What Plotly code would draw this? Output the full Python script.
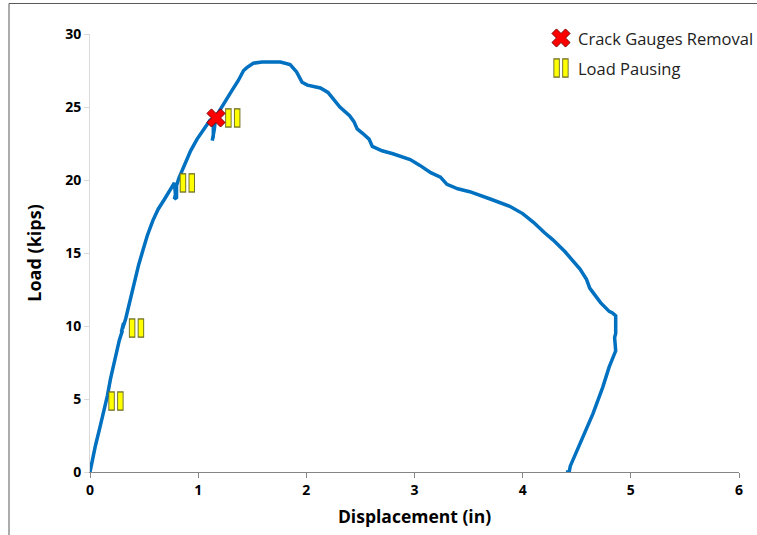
import plotly.graph_objects as go

# ---------------- data ----------------
disp = [0, 0.02, 0.05, 0.09, 0.13, 0.16, 0.19, 0.23, 0.27, 0.30,
        0.29, 0.31, 0.30, 0.33, 0.37, 0.41, 0.45, 0.49, 0.53, 0.58,
        0.63, 0.69, 0.74, 0.78, 0.79, 0.78, 0.80, 0.80, 0.82, 0.87, 0.93,
        0.99, 1.05, 1.11, 1.14, 1.14, 1.13, 1.15, 1.16, 1.20, 1.25,
        1.31, 1.37, 1.42, 1.45, 1.51, 1.59, 1.68, 1.76, 1.85, 1.91,
        1.96, 2.01, 2.13, 2.20, 2.31, 2.40, 2.44, 2.47, 2.52, 2.58,
        2.61, 2.70, 2.80, 2.96, 3.05, 3.15, 3.24, 3.30, 3.40, 3.51,
        3.70, 3.88, 4.00, 4.10, 4.20, 4.28, 4.39, 4.48, 4.53, 4.59,
        4.62, 4.66, 4.72, 4.80, 4.83, 4.86, 4.86, 4.85, 4.86, 4.80,
        4.74, 4.65, 4.57, 4.49, 4.44, 4.43, 4.40]
load = [0, 0.8, 1.8, 3.0, 4.2, 5.2, 6.4, 7.8, 9.0, 9.7,
        9.6, 10.2, 9.8, 10.5, 11.8, 13.0, 14.2, 15.2, 16.2, 17.2,
        18.0, 18.7, 19.3, 19.8, 19.0, 18.7, 18.8, 19.6, 20.1, 21.0, 22.0,
        22.8, 23.5, 24.1, 24.2, 23.0, 22.7, 23.5, 24.3, 24.8, 25.4,
        26.1, 26.8, 27.5, 27.7, 28.0, 28.08, 28.1, 28.08, 27.9, 27.4,
        26.7, 26.5, 26.3, 26.0, 25.0, 24.4, 24.0, 23.5, 23.2, 22.8,
        22.3, 22.0, 21.8, 21.4, 21.0, 20.5, 20.2, 19.7, 19.4, 19.2,
        18.7, 18.2, 17.7, 17.1, 16.4, 15.9, 15.1, 14.3, 13.9, 13.2,
        12.6, 12.2, 11.6, 11.0, 10.9, 10.7, 9.5, 9.2, 8.3, 7.2,
        5.8, 4.0, 2.6, 1.3, 0.4, 0, 0]

crack_x = [1.165]
crack_y = [24.25]

pause_x = [0.24, 0.43, 0.90, 1.32]
pause_y = [4.86, 9.86, 19.8, 24.25]

x_ticks = [0, 1, 2, 3, 4, 5, 6]
y_ticks = [0, 5, 10, 15, 20, 25, 30]

legend_labels = ["Crack Gauges Removal", "Load Pausing"]

BLUE = "#0070C0"
FONT = "Open Sans"
OUTL = "#75752a"

fig = go.Figure()

fig.add_trace(go.Scatter(x=disp, y=load, mode="lines",
                         line=dict(color=BLUE, width=3.5),
                         showlegend=False, hoverinfo="skip"))


def pause_bars(xs, ys, xa="x", ya="y"):
    for xx in xs:
        fig.add_trace(go.Scatter(x=xx, y=ys, xaxis=xa, yaxis=ya, mode="markers",
                                 showlegend=False, cliponaxis=False,
                                 marker=dict(symbol="line-ns", size=14, color=OUTL,
                                             line=dict(width=6.5, color=OUTL))))
        fig.add_trace(go.Scatter(x=xx, y=ys, xaxis=xa, yaxis=ya, mode="markers",
                                 showlegend=False, cliponaxis=False,
                                 marker=dict(symbol="line-ns", size=12, color="#FFFF00",
                                             line=dict(width=4.5, color="#FFFF00"))))


# pause icons: two small yellow bars with dark outline
bar_off = 4.4 / 108.17
pause_bars([[v - bar_off for v in pause_x], [v + bar_off for v in pause_x]], pause_y)

fig.add_trace(go.Scatter(x=crack_x, y=crack_y, mode="markers", showlegend=False,
                         marker=dict(symbol="x", size=16, color="#FF0000",
                                     line=dict(width=1, color="#7f0000"))))

# ---------- manual legend on a pixel-space overlay axis ----------
lx = 561
ly = [38, 68]
fig.add_trace(go.Scatter(x=[lx], y=[ly[0]], xaxis="x2", yaxis="y2", mode="markers",
                         showlegend=False, cliponaxis=False,
                         marker=dict(symbol="x", size=16, color="#FF0000",
                                     line=dict(width=1, color="#7f0000"))))
pause_bars([[lx - 4.4], [lx + 4.4]], [ly[1]], "x2", "y2")
for lab, yy in zip(legend_labels, ly):
    fig.add_annotation(x=lx + 15, y=yy, xref="x2", yref="y2", text=lab,
                       showarrow=False, xanchor="left", yanchor="middle",
                       font=dict(family=FONT, size=16.5, color="#222222"))

fig.update_layout(
    width=757, height=535,
    margin=dict(l=90, r=18, t=34, b=63),
    paper_bgcolor="white", plot_bgcolor="white",
    font=dict(family=FONT, color="#000000"),
    xaxis=dict(range=[0, 6], tickvals=x_ticks, ticktext=[str(v) for v in x_ticks],
               showgrid=False, zeroline=False, showline=True, linecolor="#868686",
               linewidth=1, ticks="outside", ticklen=5, tickcolor="#868686",
               tickfont=dict(family=FONT, size=14, color="#000000", weight="bold"),
               title=dict(text="<b>Displacement (in)</b>", standoff=12,
                          font=dict(family=FONT, size=17.5, color="#000000"))),
    yaxis=dict(range=[0, 30], tickvals=y_ticks, ticktext=[str(v) for v in y_ticks],
               showgrid=False, zeroline=False, showline=True, linecolor="#d9d9d9",
               linewidth=1, ticks="outside", ticklen=5, tickcolor="#d9d9d9",
               tickfont=dict(family=FONT, size=14, color="#000000", weight="bold"),
               title=dict(text="<b>Load (kips)</b>", standoff=18,
                          font=dict(family=FONT, size=18, color="#000000"))),
    xaxis2=dict(range=[90, 739], domain=[0, 1], overlaying="x", visible=False,
                anchor="y2", fixedrange=True),
    yaxis2=dict(range=[472, 34], domain=[0, 1], overlaying="y", visible=False,
                anchor="x2", fixedrange=True),
    showlegend=False,
    shapes=[dict(type="rect", xref="paper", yref="paper",
                 x0=(9 - 90) / 649, x1=(800 - 90) / 649,
                 y0=(472 - 600) / 438, y1=(472 - 3.5) / 438,
                 line=dict(color="#595959", width=1), fillcolor="rgba(0,0,0,0)",
                 layer="below")],
)

fig.write_html("out.html", config={"displayModeBar": False},
               post_script="document.body.style.margin='0';")
